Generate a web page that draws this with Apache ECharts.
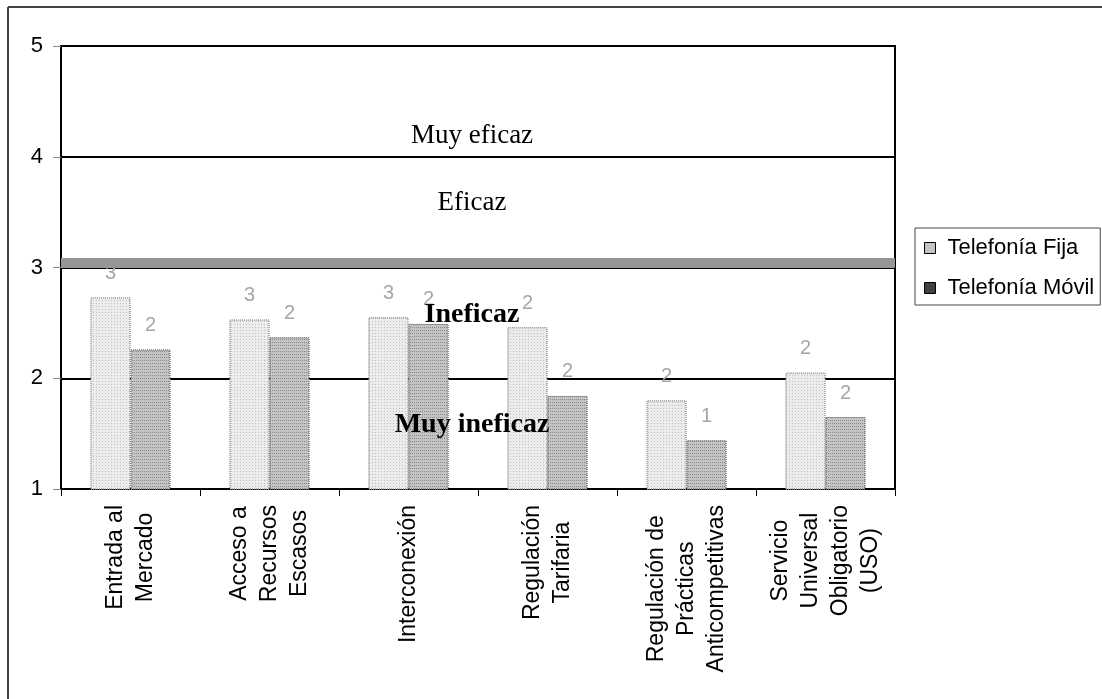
<!DOCTYPE html>
<html>
<head>
<meta charset="utf-8">
<title>Eficacia regulatoria</title>
<script src="https://cdn.jsdelivr.net/npm/echarts@6/dist/echarts.min.js"></script>
<style>
    html, body { margin: 0; padding: 0; background: #fff; }
    #chart { width: 1102px; height: 699px; }
</style>
</head>
<body>
<div id="chart"></div>
<script>
// categories on the x axis (line breaks as in the original)
const categories = [
    'Entrada al\nMercado',
    'Acceso a\nRecursos\nEscasos',
    'Interconexión',
    'Regulación\nTarifaria',
    'Regulación de\nPrácticas\nAnticompetitivas',
    'Servicio\nUniversal\nObligatorio\n(USO)'
];
const seriesNames = ['Telefonía Fija', 'Telefonía Móvil'];
const fijaValues = [2.73, 2.53, 2.55, 2.46, 1.80, 2.05];
const movilValues = [2.26, 2.37, 2.49, 1.84, 1.44, 1.65];

// threshold band and zone captions
const thresholdValue = 3.035;
const zoneLabels = ['Muy eficaz', 'Eficaz', 'Ineficaz', 'Muy ineficaz'];
const zoneLevels = [4.19, 3.58, 2.57, 1.58];
const zoneBold = [false, false, true, true];

const SANS = '"Liberation Sans", Arial, sans-serif';
const SERIF = '"Liberation Serif", "Times New Roman", serif';

const chartDom = document.getElementById('chart');
const myChart = echarts.init(chartDom, null, {renderer: 'canvas'});

function barLabel() {
    return {
        show: true,
        position: 'top',
        distance: 14,
        color: '#a6a6a6',
        fontFamily: SANS,
        fontSize: 20,
        formatter: function (p) {
            return Math.round(p.value);
        }
    };
}

const option = {
    animation: false,
    backgroundColor: '#fff',
    grid: {
        left: 61,
        right: 207,
        top: 46,
        bottom: 210,
        show: true,
        borderColor: '#000',
        borderWidth: 2,
        backgroundColor: 'transparent'
    },
    legend: {
        orient: 'vertical',
        left: 915,
        top: 228,
        padding: [9, 6, 6, 9],
        itemGap: 18,
        itemWidth: 11,
        itemHeight: 11,
        borderColor: '#444',
        borderWidth: 1,
        icon: 'rect',
        textStyle: {
            fontFamily: SANS,
            fontSize: 22,
            color: '#000',
            padding: [0, 0, 0, 7]
        },
        data: [
            {name: seriesNames[0], itemStyle: {color: '#c4c4c4', borderColor: '#000', borderWidth: 1, decal: 'none'}},
            {name: seriesNames[1], itemStyle: {color: '#404040', borderColor: '#000', borderWidth: 1, decal: 'none'}}
        ]
    },
    xAxis: {
        type: 'category',
        data: categories,
        boundaryGap: true,
        axisLine: {lineStyle: {color: '#000', width: 2}},
        axisTick: {show: true, length: 7, lineStyle: {color: '#000', width: 1}},
        axisLabel: {
            interval: 0,
            rotate: 90,
            margin: 16,
            color: '#000',
            fontFamily: SANS,
            fontSize: 23,
            lineHeight: 30,
            formatter: function (value) {
                return value.split('\n').map(function (l) {
                    return '{c|' + l + '}';
                }).join('\n');
            },
            rich: {
                c: {
                    align: 'center',
                    fontFamily: SANS,
                    fontSize: 23,
                    lineHeight: 30,
                    color: '#000'
                }
            }
        }
    },
    yAxis: {
        type: 'value',
        min: 1,
        max: 5,
        interval: 1,
        axisLine: {show: true, lineStyle: {color: '#000', width: 2}},
        axisTick: {show: true, length: 8, lineStyle: {color: '#888', width: 1}},
        axisLabel: {
            margin: 18,
            color: '#000',
            fontFamily: SANS,
            fontSize: 22
        },
        splitLine: {show: true, lineStyle: {color: '#000', width: 2}}
    },
    series: [
        {
            name: seriesNames[0],
            type: 'bar',
            data: fijaValues,
            barWidth: 40,
            barGap: '0%',
            itemStyle: {
                color: '#ececec',
                borderColor: '#9a9a9a',
                borderWidth: 1,
                borderType: 'dotted',
                decal: {
                    symbol: 'rect',
                    symbolSize: 1,
                    dashArrayX: [1, 2],
                    dashArrayY: [1, 2],
                    color: '#bdbdbd'
                }
            },
            label: barLabel(),
            markLine: {
                silent: true,
                symbol: 'none',
                z: 10,
                label: {show: false},
                lineStyle: {color: '#969696', width: 10, type: 'solid'},
                data: [{yAxis: thresholdValue}]
            }
        },
        {
            name: seriesNames[1],
            type: 'bar',
            data: movilValues,
            barWidth: 40,
            barGap: '0%',
            itemStyle: {
                color: '#c4c4c4',
                borderColor: '#7a7a7a',
                borderWidth: 1,
                borderType: 'dotted',
                decal: {
                    symbol: 'rect',
                    symbolSize: 1,
                    dashArrayX: [1, 1],
                    dashArrayY: [1, 2],
                    color: '#8a8a8a'
                }
            },
            label: barLabel()
        }
    ]
};

option && myChart.setOption(option, true);

// zone captions placed on the value scale, plus the outer frame
const captions = zoneLabels.map(function (txt, i) {
    const y = myChart.convertToPixel({yAxisIndex: 0}, zoneLevels[i]);
    return {
        type: 'text',
        z: 20,
        x: 472,
        y: y,
        style: {
            text: txt,
            fontFamily: SERIF,
            fontSize: zoneBold[i] ? 28 : 27,
            fontWeight: zoneBold[i] ? 'bold' : 'normal',
            fill: '#000',
            align: 'center',
            verticalAlign: 'middle'
        }
    };
});

myChart.setOption({
    graphic: captions.concat([
        {type: 'line', shape: {x1: 8, y1: 7, x2: 1102, y2: 7}, style: {stroke: '#444', lineWidth: 2}},
        {type: 'line', shape: {x1: 8, y1: 7, x2: 8, y2: 699}, style: {stroke: '#444', lineWidth: 2}}
    ])
});
</script>
</body>
</html>
